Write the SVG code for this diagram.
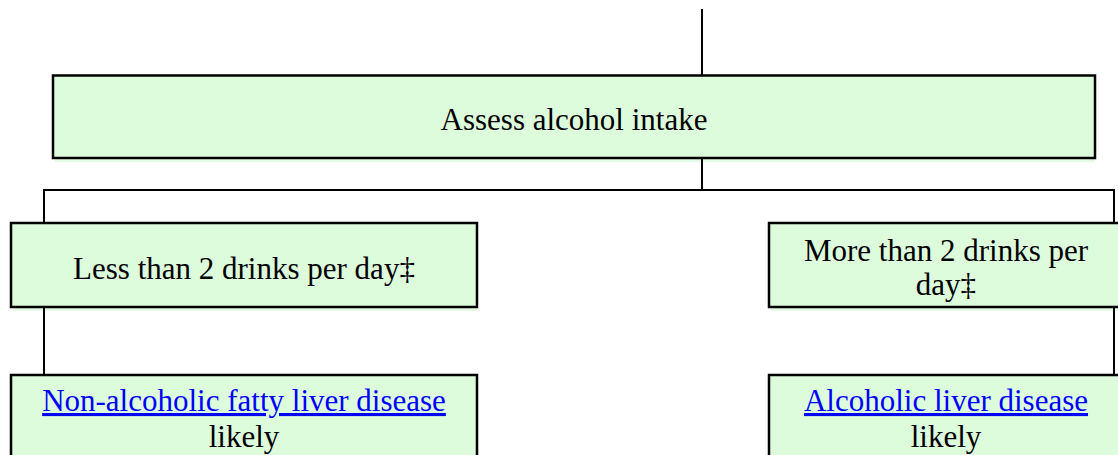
<svg xmlns="http://www.w3.org/2000/svg" width="1118" height="455" viewBox="0 0 1118 455">
<style>
.box{fill:#DDFCDC;stroke:#000;stroke-width:2.5}
.sh{fill:#E4FAE4}
.t{font-family:"Liberation Serif","Times New Roman",serif;font-size:31px;fill:#000;text-anchor:middle}
.lk{fill:#0000FF;text-decoration:underline}
.c{stroke:#000;stroke-width:2;fill:none}
</style>
<rect width="1118" height="455" fill="#fff"/>
<g id="assess">
<rect class="sh" x="55" y="158" width="1040" height="4"/>
<rect class="box" x="53" y="75.5" width="1042" height="82.5"/>
<text class="t" x="574" y="130">Assess alcohol intake</text>
</g>
<g id="less">
<rect class="sh" x="13" y="307" width="464" height="4"/>
<rect class="box" x="11" y="223" width="466" height="84"/>
<text class="t" x="244" y="279">Less than 2 drinks per day‡</text>
</g>
<g id="more">
<rect class="sh" x="771" y="307" width="350" height="4"/>
<rect class="box" x="769" y="223" width="352" height="84"/>
<text class="t" x="946" y="261">More than 2 drinks per</text>
<text class="t" x="946" y="295">day‡</text>
</g>
<g id="nafld">
<rect class="box" x="11" y="375" width="466" height="100"/>
<text class="t" x="244" y="411"><tspan class="lk">Non-alcoholic fatty liver disease</tspan></text>
<text class="t" x="244" y="447">likely</text>
</g>
<g id="ald">
<rect class="box" x="769" y="375" width="352" height="100"/>
<text class="t" x="946" y="411"><tspan class="lk">Alcoholic liver disease</tspan></text>
<text class="t" x="946" y="447">likely</text>
</g>
<g id="connectors">
<path class="c" d="M702 9V75"/>
<path class="c" d="M702 159V190"/>
<path class="c" d="M44 222V190H1114V222"/>
<path class="c" d="M44 308V374"/>
<path class="c" d="M1114 308V374"/>
</g>
</svg>
